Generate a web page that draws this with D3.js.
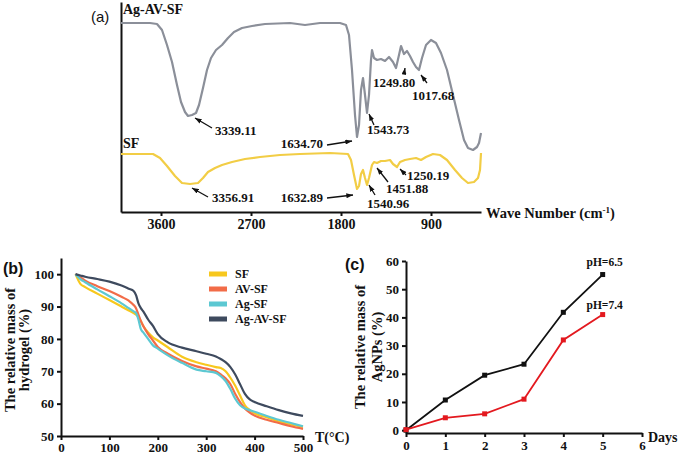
<!DOCTYPE html>
<html>
<head>
<meta charset="utf-8">
<script src="https://cdn.jsdelivr.net/npm/d3@7"></script>
<style>
  body { margin: 0; background: #fff; }
  svg text { font-family: "Liberation Serif", "Times New Roman", serif; font-weight: bold; fill: #111; }
  .axis path, .axis line { stroke: #111; stroke-width: 2; }
  .panel-tag { font-family: "Liberation Sans", Arial, sans-serif !important; font-size: 15px; }
</style>
</head>
<body>
<svg id="chart" width="680" height="455"></svg>
<script>
const SERIF = '"Liberation Serif", "Times New Roman", serif';

// ---- (a) FTIR spectra ----
const waveTicks = [3600, 2700, 1800, 900];
const agAvSfWave = [4000,3710,3640,3590,3540,3490,3440,3400,3360,3330,3290,3250,3220,3180,3140,3100,3050,2990,2930,2870,2790,2690,2560,2310,2160,2010,1810,1750,1720,1690,1660,1640,1620,1600,1580,1560,1540,1520,1500,1490,1470,1440,1400,1360,1320,1280,1250,1220,1200,1170,1140,1110,1080,1050,1020,990,950,900,850,800,740,680,620,570,530,480,440,420,410,400];
const agAvSfT    = [94.5,94.5,94,91,83.5,75,63.5,55,50,48,48.5,49.5,53.5,62,71,77,81,83.5,87,90,92,93,94,94.5,93.5,94.5,94.5,93.5,88.5,71,48.5,37.5,43.5,61,67,58.5,49.5,58.5,76,81,77,76,76.5,75.5,77.5,75,72,78.5,83,79,80.5,78,75,72.5,71,77,83.5,86,84.5,79.5,71,58.5,46,36,32,31,32.5,34.5,37,39.5];
const sfWave = [4000,3680,3610,3540,3460,3390,3310,3230,3180,3130,3060,2990,2890,2760,2610,2410,2210,1910,1730,1700,1670,1640,1620,1600,1580,1560,1540,1520,1490,1470,1440,1400,1360,1310,1280,1240,1210,1160,1110,1050,1000,950,880,810,740,660,590,530,470,430,410,400];
const sfT    = [29,29,27,23,18,14.5,14,14.5,17,20,22,23.5,25,26.5,27.5,28.5,29,29.5,29,26,18.5,11.5,13,19,21,17,13.5,17,23.5,25,24.5,25.5,25.5,26,24,22.5,25,26,26.5,27,26,27.5,29,28.5,26,21,17,14.5,15,17,21,29.5];
// peak labels: tip of arrow in data units, plus layout offsets (px)
const peakLabels = ["3339.11","1634.70","1543.73","1249.80","1017.68","3356.91","1632.89","1540.96","1451.88","1250.19"];
const peakTipWave = [3260,1690,1520,1160,1000,3290,1680,1520,1440,1210];
const peakTipT    = [47,35.5,49,72,68.5,12,8.5,13.5,22,21.5];
const peakLayout = [
  {tail:[17,10], text:[20,17], anchor:"start"},
  {tail:[-25,4], text:[-29,7], anchor:"end"},
  {tail:[5,11],  text:[-2,20], anchor:"start"},
  {tail:[-1,6],  text:[-32,19], anchor:"start"},
  {tail:[6,8],   text:[-9,25], anchor:"start"},
  {tail:[16,9],  text:[20,14], anchor:"start"},
  {tail:[-26,3], text:[-30,7], anchor:"end"},
  {tail:[6,10],  text:[-2,23], anchor:"start"},
  {tail:[11,14], text:[9,25], anchor:"start"},
  {tail:[6,6],   text:[7,11], anchor:"start"}
];

// ---- (b) TGA ----
const tgaTemp = [30,40,50,75,100,125,140,150,155,160,165,170,180,190,200,220,250,280,300,320,330,340,350,360,370,380,390,400,425,450,475,500];
const tgaSF      = [100,97,96,94,92,90,88.8,88,87.5,86.8,85.5,84,82,80.5,79.5,77.5,74.5,72.8,72,71.3,71,70,68,65.5,62.5,59.5,58,57,55.8,54.5,53.6,52.8];
const tgaAVSF    = [100,99,98,96.3,94.8,93,91.8,90.5,89.5,87.5,85.5,84,81.5,79.5,77.5,75.5,73.2,71.5,70.8,70,69,67.8,66,63,60.5,58.5,57.2,56.3,55,54,53,52.2];
const tgaAgSF    = [100,98.5,97.5,95.3,93.2,91,89.5,88.5,88,86,83,82,80,78,77,75,72.6,70.5,70,69.5,68.5,67,64.5,61.5,59.5,58.5,58,57.5,56.2,55,54,53];
const tgaAgAVSF  = [100,99.6,99.2,98.5,97.7,96.5,95.5,94.8,93.5,91,89.5,88.5,86,84,81.5,79,77.3,76.2,75.4,74.6,73.8,72.8,71.3,69,66,63,61.3,60.5,59.2,58,57,56.2];
const tgaNames  = ["SF","AV-SF","Ag-SF","Ag-AV-SF"];
const tgaColors = ["#f7c81e","#f26c48","#5cc8d2","#3e4a5e"];

// ---- (c) AgNPs release ----
const days = [0,1,2,3,4,5];
const releasePH65 = [0,10.7,19.5,23.4,41.8,55.2];
const releasePH74 = [0.2,4.4,5.8,11,32,41];

const svg = d3.select('#chart');

function styleTicks(sel, size) {
  sel.selectAll('text')
    .style('font-family', SERIF).style('font-weight','bold')
    .style('font-size', size).style('fill','#111');
}

// arrowhead marker
svg.append('defs').append('marker')
  .attr('id','arrow').attr('viewBox','0 0 8 6').attr('refX',8).attr('refY',3)
  .attr('markerWidth',7).attr('markerHeight',5).attr('markerUnits','userSpaceOnUse')
  .attr('orient','auto')
  .append('path').attr('d','M0,0L8,3L0,6z').attr('fill','#111');

// ===== panel (a) =====
const xA = d3.scaleLinear().domain([4000, 400]).range([121, 481]);
const yA = d3.scaleLinear().domain([0, 105]).range([212, 2]);
const gA = svg.append('g');

gA.append('g').attr('class','axis').attr('transform','translate(0,212)')
  .call(d3.axisBottom(xA).tickValues(waveTicks).tickFormat(d3.format('d')).tickSize(4).tickSizeOuter(0).tickPadding(3))
  .call(styleTicks, '14px');
gA.append('g').attr('class','axis').attr('transform','translate(121,0)')
  .call(d3.axisLeft(yA).tickValues([]).tickSizeOuter(0));

const lineA = d3.line().x(d => xA(d[0])).y(d => yA(d[1]));
gA.append('path').datum(d3.zip(agAvSfWave, agAvSfT)).attr('d', lineA)
  .attr('fill','none').attr('stroke','#8b8f99').attr('stroke-width',2.2).attr('stroke-linejoin','round');
gA.append('path').datum(d3.zip(sfWave, sfT)).attr('d', lineA)
  .attr('fill','none').attr('stroke','#f2cd45').attr('stroke-width',2.2).attr('stroke-linejoin','round');

peakLabels.forEach((lab, i) => {
  const tx = xA(peakTipWave[i]), ty = yA(peakTipT[i]);
  const lay = peakLayout[i];
  gA.append('line')
    .attr('x1', tx + lay.tail[0]).attr('y1', ty + lay.tail[1])
    .attr('x2', tx).attr('y2', ty)
    .attr('stroke','#111').attr('stroke-width',1.3).attr('marker-end','url(#arrow)');
  gA.append('text').attr('x', tx + lay.text[0]).attr('y', ty + lay.text[1])
    .attr('text-anchor', lay.anchor).style('font-size','13px').text(lab);
});

gA.append('text').attr('x',123).attr('y',14).style('font-size','14px').text('Ag-AV-SF');
gA.append('text').attr('x',123).attr('y',148).style('font-size','14px').text('SF');
gA.append('text').attr('class','panel-tag').attr('x',91).attr('y',22).style('font-weight','normal').text('(a)');
const waveTitle = gA.append('text').attr('x',486).attr('y',218).style('font-size','14.5px');
waveTitle.append('tspan').text('Wave Number (cm');
waveTitle.append('tspan').attr('dy',-5).style('font-size','9px').text('-1');
waveTitle.append('tspan').attr('dy',5).text(')');

// ===== panel (b) =====
const xB = d3.scaleLinear().domain([0, 500]).range([61, 303]);
const yB = d3.scaleLinear().domain([50, 105]).range([436, 258]);
const gB = svg.append('g');

gB.append('g').attr('class','axis').attr('transform','translate(0,436)')
  .call(d3.axisBottom(xB).ticks(5).tickSize(4).tickSizeOuter(0).tickPadding(3))
  .call(styleTicks, '13px');
gB.append('g').attr('class','axis').attr('transform','translate(61,0)')
  .call(d3.axisLeft(yB).tickValues([50,60,70,80,90,100]).tickSize(4).tickSizeOuter(0).tickPadding(3))
  .call(styleTicks, '13px');

const lineB = d3.line().curve(d3.curveMonotoneX).x(d => xB(d[0])).y(d => yB(d[1]));
[tgaSF, tgaAVSF, tgaAgSF, tgaAgAVSF].forEach((series, i) => {
  gB.append('path').datum(d3.zip(tgaTemp, series)).attr('d', lineB)
    .attr('fill','none').attr('stroke', tgaColors[i]).attr('stroke-width',2.2);
});

const legB = gB.append('g');
tgaNames.forEach((name, i) => {
  const y = 274 + i * 15;
  legB.append('rect').attr('x',209).attr('y',y - 2.5).attr('width',18).attr('height',5).attr('fill',tgaColors[i]);
  legB.append('text').attr('x',235).attr('y',y + 4).style('font-size','12px').text(name);
});

gB.append('text').attr('class','panel-tag').attr('x',3).attr('y',274).style('font-weight','bold').style('font-size','16px').text('(b)');
gB.append('text').attr('x',315).attr('y',442).style('font-size','14px').text('T(°C)');
const yTitleB = gB.append('text').attr('transform','translate(15,350) rotate(-90)')
  .attr('text-anchor','middle').style('font-size','14.5px');
yTitleB.append('tspan').attr('x',0).attr('dy',0).text('The relative mass of');
yTitleB.append('tspan').attr('x',0).attr('dy',14).text('hydrogel (%)');

// ===== panel (c) =====
const xC = d3.scaleLinear().domain([0, 6]).range([406, 642]);
const yC = d3.scaleLinear().domain([-1, 60]).range([433, 261]);
const gC = svg.append('g');

gC.append('g').attr('class','axis').attr('transform','translate(0,433)')
  .call(d3.axisBottom(xC).ticks(6).tickSize(4).tickSizeOuter(0).tickPadding(4))
  .call(styleTicks, '13px');
gC.append('g').attr('class','axis').attr('transform','translate(406,0)')
  .call(d3.axisLeft(yC).tickValues([0,10,20,30,40,50,60]).tickSize(4).tickSizeOuter(0).tickPadding(3))
  .call(styleTicks, '13px');

const lineC = d3.line().x(d => xC(d[0])).y(d => yC(d[1]));
[[releasePH65,'#111','pH=6.5',-9],[releasePH74,'#e3191f','pH=7.4',-6]].forEach(([vals, col, lab, off]) => {
  const pts = d3.zip(days, vals);
  gC.append('path').datum(pts).attr('d', lineC).attr('fill','none').attr('stroke',col).attr('stroke-width',1.8);
  gC.selectAll(null).data(pts).enter().append('rect')
    .attr('x', d => xC(d[0]) - 2.5).attr('y', d => yC(d[1]) - 2.5)
    .attr('width',5).attr('height',5).attr('fill',col);
  const last = pts[pts.length - 1];
  gC.append('text').attr('x', xC(last[0]) + 2).attr('y', yC(last[1]) + off)
    .attr('text-anchor','middle').style('font-size','11.5px').text(lab);
});

gC.append('text').attr('class','panel-tag').attr('x',345).attr('y',270).style('font-weight','bold').style('font-size','16px').text('(c)');
gC.append('text').attr('x',648).attr('y',442).style('font-size','14px').text('Days');
const yTitleC = gC.append('text').attr('transform','translate(365,347) rotate(-90)')
  .attr('text-anchor','middle').style('font-size','14.5px');
yTitleC.append('tspan').attr('x',0).attr('dy',0).text('The relative mass of');
yTitleC.append('tspan').attr('x',0).attr('dy',17).text('AgNPs (%)');
</script>
</body>
</html>
